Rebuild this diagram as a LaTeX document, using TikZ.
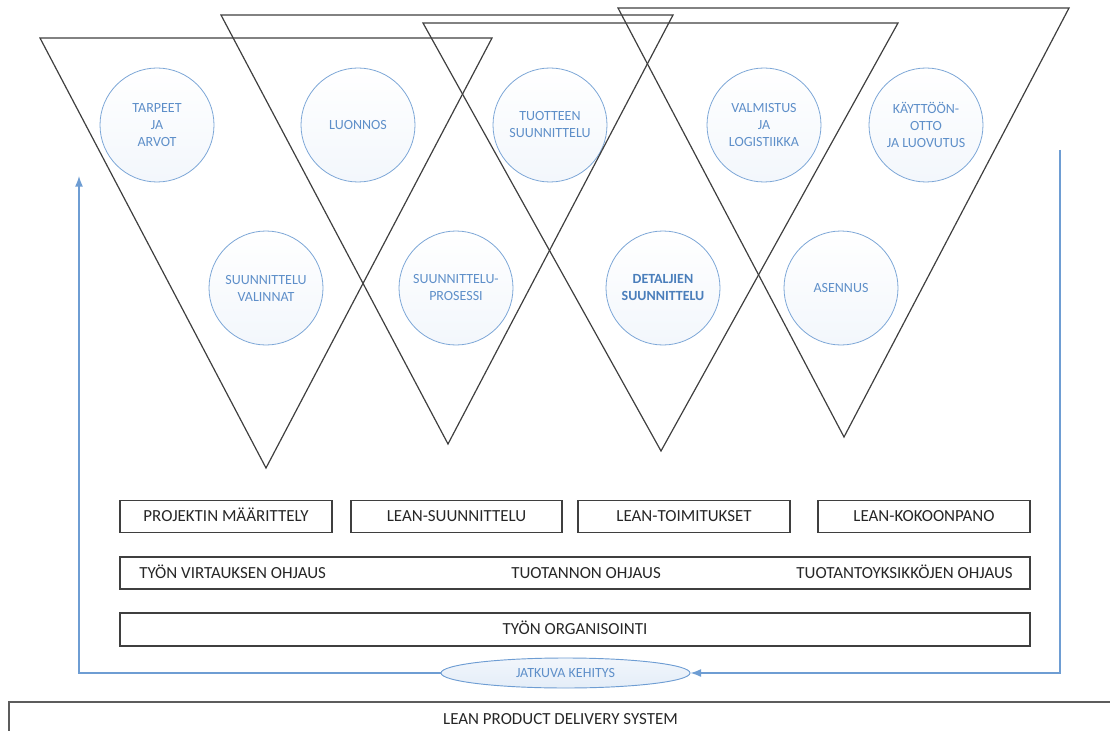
\documentclass[tikz,border=0pt]{standalone}
\usepackage{fontspec}
\setmainfont{Carlito}
\usepackage{tikz}
\usetikzlibrary{arrows.meta, shapes.geometric}
\definecolor{lpd-ink}{HTML}{262626}
\definecolor{lpd-line}{HTML}{3F3F3F}
\definecolor{lpd-blue}{HTML}{6E9DD3}
\definecolor{lpd-text}{HTML}{5E8FC9}
\definecolor{lpd-deep}{HTML}{4A7EBB}
\definecolor{lpd-tint}{HTML}{E4EDF8}

\tikzset{
  vaihe/.style={circle, draw=lpd-blue!90, line width=0.6pt, top color=white,
    bottom color=lpd-tint!45, minimum size=85.5pt, inner sep=0pt, align=center,
    text=lpd-text, font=\fontsize{10.5}{12.75}\selectfont},
  teksti/.style={inner sep=0pt, text height=8pt, text depth=0pt, text=lpd-ink,
    font=\fontsize{12.7}{15}\selectfont},
  laatikko/.style={teksti, draw=lpd-line, line width=0.8pt, minimum height=23.5pt},
  kolmio/.style={draw=lpd-line, line width=0.9pt},
  palaute/.style={draw=lpd-blue, line width=1pt},
}

\begin{document}
\begin{tikzpicture}[x=0.75pt, y=-0.75pt, >={Latex[length=8pt, width=6pt]}, line join=miter]
  \useasboundingbox (0,0) rectangle (1110,731);
  % vaiheet
  \node[vaihe] (tarpeet) at (157,125) {TARPEET\\JA\\ARVOT};
  \node[vaihe] (luonnos) at (358,125) {LUONNOS};
  \node[vaihe] (tuote) at (550,125) {TUOTTEEN\\SUUNNITTELU};
  \node[vaihe] (valmistus) at (764,125) {VALMISTUS\\JA\\LOGISTIIKKA};
  \node[vaihe] (kaytto) at (926,125) {KÄYTTÖÖN-\\OTTO\\JA LUOVUTUS};
  \node[vaihe] (valinnat) at (266,288) {SUUNNITTELU\\VALINNAT};
  \node[vaihe] (prosessi) at (456,288) {SUUNNITTELU-\\PROSESSI};
  \node[vaihe, text=lpd-deep, font=\fontsize{10.5}{12.75}\selectfont\bfseries] (detaljit) at (663,288) {DETALJIEN\\SUUNNITTELU};
  \node[vaihe] (asennus) at (841,288) {ASENNUS};
  % kolmiot
  \draw[kolmio] (40,38) -- (492,38) -- (266,468) -- cycle;
  \draw[kolmio] (221,15) -- (673,15) -- (448,444) -- cycle;
  \draw[kolmio] (423,23) -- (898,23) -- (661,451) -- cycle;
  \draw[kolmio] (618,8) -- (1069,8) -- (844,437) -- cycle;
  % laatikot
  \node[laatikko, minimum width=159pt] (maarittely) at (226,516.5) {PROJEKTIN MÄÄRITTELY};
  \node[laatikko, minimum width=158.25pt] (suunnittelu) at (456.5,516.5) {LEAN-SUUNNITTELU};
  \node[laatikko, minimum width=159pt] (toimitukset) at (684,516.5) {LEAN-TOIMITUKSET};
  \node[laatikko, minimum width=159pt] (kokoonpano) at (924,516.5) {LEAN-KOKOONPANO};
  \node[laatikko, minimum width=682.5pt, minimum height=24pt] (ohjaus) at (575,573) {};
  \node[teksti, anchor=west] (virtaus) at (139,573) {TYÖN VIRTAUKSEN OHJAUS};
  \node[teksti] (tuotanto) at (586,573) {TUOTANNON OHJAUS};
  \node[teksti, anchor=east] (yksikot) at (1013,573) {TUOTANTOYKSIKKÖJEN OHJAUS};
  \node[laatikko, minimum width=682.5pt, minimum height=24.75pt] (organisointi) at (575,629.5) {TYÖN ORGANISOINTI};
  % jatkuva kehitys
  \node[ellipse, draw=lpd-blue, line width=0.7pt, top color=lpd-tint!50, bottom color=lpd-tint,
    minimum width=186.75pt, minimum height=22.5pt, inner sep=0pt, text=lpd-text,
    font=\fontsize{10.5}{12.75}\selectfont] (kehitys) at (565.5,673) {JATKUVA KEHITYS};
  \coordinate (oikea) at (1060,150);
  \coordinate (vasen) at (79,176);
  \draw[palaute, ->] (oikea) |- (kehitys.east);
  \draw[palaute, ->] (kehitys.west) -| (vasen);
  % pohja
  \node[laatikko, draw=lpd-line!85, line width=1pt, minimum width=827.25pt, minimum height=26.25pt] (jarjestelma) at (560.5,719.5) {LEAN PRODUCT DELIVERY SYSTEM};
\end{tikzpicture}
\end{document}
